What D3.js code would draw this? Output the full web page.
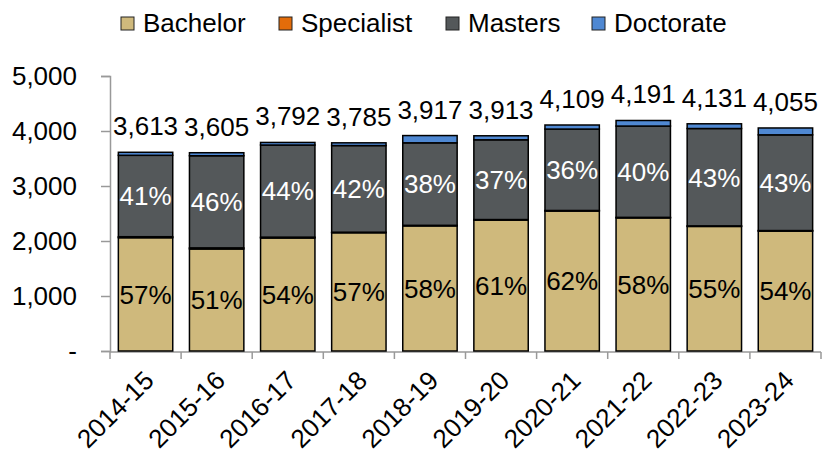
<!DOCTYPE html>
<html>
<head>
<meta charset="utf-8">
<script src="https://cdn.jsdelivr.net/npm/d3@7"></script>
<style>
  body { margin: 0; background: #fff; }
  svg { font-family: "Liberation Sans", Arial, Helvetica, sans-serif; }
</style>
</head>
<body>
<div id="chart"></div>
<script>
var width = 826,
    height = 457;

// data
var years = ["2014-15", "2015-16", "2016-17", "2017-18", "2018-19",
             "2019-20", "2020-21", "2021-22", "2022-23", "2023-24"];
var bachelor   = [2060, 1855, 2055, 2150, 2275, 2380, 2545, 2420, 2265, 2180];
var specialist = [18, 20, 15, 10, 10, 10, 10, 10, 10, 10];
var masters    = [1480, 1675, 1675, 1575, 1500, 1450, 1480, 1660, 1770, 1740];
var doctorate  = [55, 55, 47, 50, 132, 73, 74, 101, 86, 125];
var seriesNames = ["Bachelor", "Specialist", "Masters", "Doctorate"];
var yTicks = [0, 1000, 2000, 3000, 4000, 5000];

var colors = {
    Bachelor: "#cfb97c",
    Specialist: "#e36c0a",
    Masters: "#54585a",
    Doctorate: "#4f88d2"
};

var rows = years.map(function(y, i) {
    return {
        year: y,
        Bachelor: bachelor[i],
        Specialist: specialist[i],
        Masters: masters[i],
        Doctorate: doctorate[i],
        total: bachelor[i] + specialist[i] + masters[i] + doctorate[i]
    };
});

var margin = {left: 110, right: 5, top: 76, bottom: 106};

var x = d3.scaleBand()
    .domain(years)
    .range([margin.left, width - margin.right])
    .paddingInner(0.235)
    .paddingOuter(0.1175);

var y = d3.scaleLinear()
    .domain([0, 5000])
    .range([height - margin.bottom, margin.top]);

var svg = d3.select("#chart").append("svg")
    .attr("width", width)
    .attr("height", height);

// y axis
var yAxis = svg.append("g")
    .attr("transform", "translate(" + margin.left + ",0)")
    .call(d3.axisLeft(y).tickValues(yTicks).tickSize(9).tickPadding(24)
        .tickFormat(function(d) { return d === 0 ? "-" : d3.format(",")(d); }));
yAxis.select(".domain").attr("stroke", "#999").attr("stroke-width", 1.5);
yAxis.selectAll(".tick line").attr("stroke", "#999").attr("stroke-width", 1.5);
yAxis.selectAll(".tick text")
    .attr("font-size", 26)
    .attr("fill", "#000");

// x axis line + ticks on band edges
var x0 = margin.left, x1 = width - margin.right, yBase = y(0) + 1;
svg.append("line")
    .attr("x1", x0).attr("x2", x1)
    .attr("y1", yBase).attr("y2", yBase)
    .attr("stroke", "#999").attr("stroke-width", 1.5);
var edges = years.map(function(d) { return x(d) - x.step() * x.paddingInner() / 2; });
edges.push(x1);
svg.selectAll(".xtick")
    .data(edges).enter()
    .append("line")
    .attr("x1", function(d) { return d; })
    .attr("x2", function(d) { return d; })
    .attr("y1", yBase).attr("y2", yBase + 7)
    .attr("stroke", "#999").attr("stroke-width", 1.5);

// x labels rotated
svg.selectAll(".xlabel")
    .data(years).enter()
    .append("text")
    .attr("transform", function(d) {
        var cx = x(d) + x.bandwidth() / 2 + 10;
        return "translate(" + cx + "," + (yBase + 30) + ") rotate(-45)";
    })
    .attr("text-anchor", "end")
    .attr("font-size", 26)
    .text(function(d) { return d; });

// stacked bars
var stack = d3.stack().keys(seriesNames);
var layers = stack(rows);

svg.selectAll(".layer")
    .data(layers).enter()
    .append("g")
    .attr("fill", function(d) { return colors[d.key]; })
    .selectAll("rect")
    .data(function(d) { return d; }).enter()
    .append("rect")
    .attr("x", function(d) { return x(d.data.year); })
    .attr("width", x.bandwidth())
    .attr("y", function(d) { return y(d[1]); })
    .attr("height", function(d) { return y(d[0]) - y(d[1]); })
    .attr("stroke", "#000")
    .attr("stroke-width", 1.5);

// percent labels for bachelor and masters
function pctLabels(layer, color) {
    svg.selectAll(".pct-" + layer.key)
        .data(layer).enter()
        .append("text")
        .attr("x", function(d) { return x(d.data.year) + x.bandwidth() / 2; })
        .attr("y", function(d) { return (y(d[0]) + y(d[1])) / 2; })
        .attr("dy", "0.36em")
        .attr("text-anchor", "middle")
        .attr("font-size", 26)
        .attr("fill", color)
        .text(function(d) { return Math.round((d[1] - d[0]) / d.data.total * 100) + "%"; });
}
pctLabels(layers[0], "#000");
pctLabels(layers[2], "#fff");

// totals
svg.selectAll(".total")
    .data(rows).enter()
    .append("text")
    .attr("x", function(d) { return x(d.year) + x.bandwidth() / 2; })
    .attr("y", function(d) { return y(d.total) - 17; })
    .attr("text-anchor", "middle")
    .attr("font-size", 26)
    .text(function(d) { return d3.format(",")(d.total); });

// legend
var legendX = [121, 279, 446, 592];
var legend = svg.selectAll(".legend")
    .data(seriesNames).enter()
    .append("g")
    .attr("transform", function(d, i) { return "translate(" + legendX[i] + ",17)"; });
legend.append("rect")
    .attr("width", 13).attr("height", 13)
    .attr("fill", function(d) { return colors[d]; })
    .attr("stroke", "#222").attr("stroke-width", 1);
legend.append("text")
    .attr("x", 22)
    .attr("y", 15)
    .attr("font-size", 26)
    .text(function(d) { return d; });
</script>
</body>
</html>
